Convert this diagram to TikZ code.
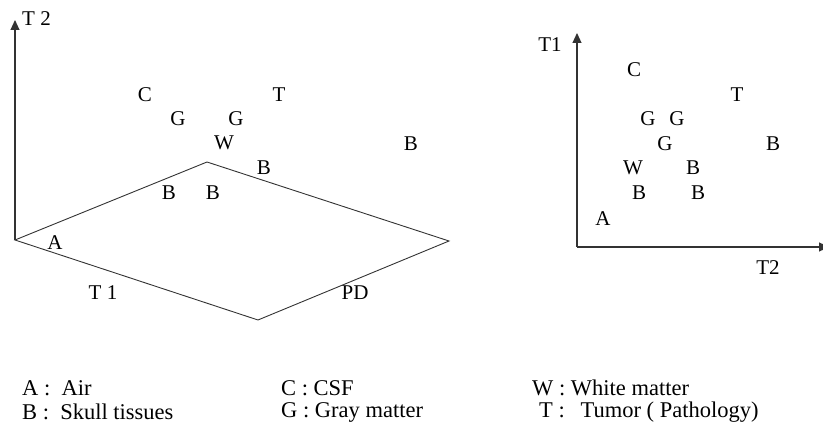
\documentclass[tikz,border=0pt]{standalone}
\usepackage{fontspec}
\setmainfont{Liberation Serif}
\usetikzlibrary{arrows.meta}
\begin{document}
\begin{tikzpicture}[x=1pt,y=-1pt,
  lbl/.style={font=\fontsize{21}{24}\selectfont, inner sep=0pt},
  leg/.style={font=\fontsize{22.5}{26}\selectfont, inner sep=0pt, anchor=west},
  axis/.style={line width=1.1pt, draw=black!80, -{Triangle[length=10pt,width=9pt]}},
  edge/.style={line width=0.9pt, draw=black!80}]
\useasboundingbox (0,0) rectangle (823,425);
\clip (0,0) rectangle (823,425);
% left plot
\coordinate (O1) at (15,240);
\coordinate (Y1) at (15,20);
\draw[axis] (O1) -- (Y1);
\node[lbl, anchor=west] (t2a) at (22,19) {T 2};
\coordinate (Dt) at (207,162);
\coordinate (Dr) at (449,241);
\coordinate (Db) at (258,320);
\draw[edge] (O1) -- (Dt) -- (Dr) -- (Db) -- cycle;
\node[lbl] (lC) at (145,95) {C};
\node[lbl] (lT) at (279,95) {T};
\node[lbl] (lG1) at (178,119) {G};
\node[lbl] (lG2) at (236,119) {G};
\node[lbl] (lW) at (224,143) {W};
\node[lbl] (lB1) at (411,144) {B};
\node[lbl] (lB2) at (264,168) {B};
\node[lbl] (lB3) at (169,193) {B};
\node[lbl] (lB4) at (213,193) {B};
\node[lbl] (lA) at (55,243) {A};
\node[lbl] (lT1) at (103,293) {T 1};
\node[lbl] (lPD) at (355,293) {PD};
% right plot
\coordinate (O2) at (577,247);
\coordinate (Y2) at (577,33);
\coordinate (X2) at (829,247);
\draw[axis] (O2) -- (Y2);
\draw[axis] (O2) -- (X2);
\node[lbl] (rT1) at (550,45) {T1};
\node[lbl] (rT2) at (768,268) {T2};
\node[lbl] (rC) at (634,70) {C};
\node[lbl] (rT) at (737,95) {T};
\node[lbl] (rG1) at (648,119) {G};
\node[lbl] (rG2) at (677,119) {G};
\node[lbl] (rG3) at (665,144) {G};
\node[lbl] (rB1) at (773,144) {B};
\node[lbl] (rW) at (633,168) {W};
\node[lbl] (rB2) at (693,168) {B};
\node[lbl] (rB3) at (639,193) {B};
\node[lbl] (rB4) at (698,193) {B};
\node[lbl] (rA) at (603,219) {A};
% legend
\node[leg] (k1) at (22,388) {A :\ \ Air};
\node[leg] (k2) at (22,412) {B :\ \ Skull tissues};
\node[leg] (k3) at (281,388) {C : CSF};
\node[leg] (k4) at (281,412) {G : Gray matter};
\node[leg] (k5) at (532,388) {W : White matter};
\node[leg] (k6) at (539,412) {T :\hspace{0.7em}Tumor ( Pathology)};
\end{tikzpicture}
\end{document}
